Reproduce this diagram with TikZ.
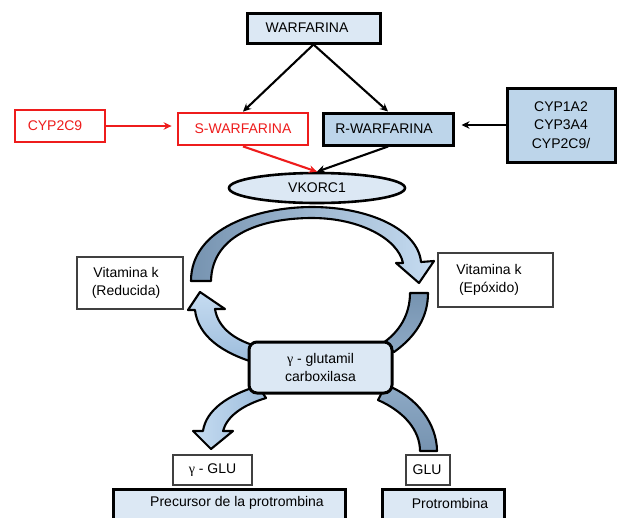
\documentclass[tikz,border=0pt]{standalone}
\usepackage{fontspec}
\setmainfont{Liberation Sans}
\newfontfamily\grk{Liberation Serif}
\usetikzlibrary{arrows.meta,shapes.geometric}
\definecolor{lightbox}{HTML}{DCE8F4}
\definecolor{midbox}{HTML}{BDD5EA}
\definecolor{darkarc}{HTML}{7693B0}
\definecolor{darkarc2}{HTML}{8EAAC6}
\definecolor{lightarc}{HTML}{C6DCF1}
\definecolor{lightarc2}{HTML}{9CBCDC}
\definecolor{redline}{HTML}{EE1C1C}
\tikzset{
  thickbox/.style={draw=black, line width=3pt, inner sep=0pt},
  redbox/.style={draw=redline, line width=2.8pt, fill=white, text=redline, inner sep=0pt},
  thinbox/.style={draw=black!75, line width=1.1pt, fill=white, inner sep=0pt, align=center},
  conn/.style={line width=2.1pt, -{Stealth[length=8pt,width=7.5pt]}},
  blockarc/.style={draw=black, line width=2.1pt, line join=round},
  plain/.style={inner sep=0pt, align=center}
}
\begin{document}
\begin{tikzpicture}[x=1pt,y=-1pt, font=\fontsize{14}{18.5}\selectfont]
\useasboundingbox (0,0) rectangle (617,517);
\clip (0,0) rectangle (617,517);

% ---- block arrows (cycle) ----
\draw[blockarc, left color=darkarc, right color=lightarc]
  (191,281) .. controls (191,228) and (258,207) .. (312,207)
  .. controls (370,207) and (418,230) .. (421,262)
  -- (434,261) -- (419,283) -- (396,263) -- (403,263)
  .. controls (398,239) and (360,218) .. (312,218)
  .. controls (265,218) and (212,233) .. (211,281) -- cycle;
\draw[blockarc, top color=darkarc, bottom color=darkarc2]
  (428,293) .. controls (428,318) and (415,337) .. (394,352)
  -- (383,343) .. controls (399,332) and (410,315) .. (410,293) -- cycle;
\draw[blockarc, top color=lightarc, bottom color=lightarc2]
  (225,309) -- (200,292) -- (188,310) -- (195,310)
  .. controls (198,336) and (222,353) .. (256,363)
  -- (256,346) .. controls (235,340) and (218,328) .. (215,309) -- cycle;
\draw[blockarc, left color=lightarc, right color=lightarc2]
  (203,431) .. controls (206,410) and (228,395) .. (258,386)
  -- (266,398) .. controls (243,405) and (227,416) .. (223,431)
  -- (233,431) -- (211,449) -- (193,431) -- cycle;
\draw[blockarc, top color=darkarc2, bottom color=darkarc]
  (386,385) .. controls (418,397) and (437,425) .. (437,451)
  -- (420,451) .. controls (420,431) and (405,412) .. (378,400) -- cycle;

% ---- nodes ----
\node[thickbox, fill=lightbox, minimum width=133, minimum height=30] (war) at (313.5,28) {};
\node[plain] (wart) at (307,28) {WARFARINA};
\node[redbox, minimum width=130, minimum height=32] (sw) at (243,129) {S-WARFARINA};
\node[thickbox, fill=midbox, minimum width=130, minimum height=32] (rw) at (388,129) {};
\node[plain] (rwt) at (384,129) {R-WARFARINA};
\node[redbox, minimum width=90, minimum height=32] (cyp2) at (60,126) {};
\node[plain, text=redline] (cyp2t) at (55,126) {CYP2C9};
\node[thickbox, fill=midbox, minimum width=108, minimum height=74, align=center] (cyp) at (561,125)
  {CYP1A2\\CYP3A4\\CYP2C9/};
\node[ellipse, draw=black, line width=2.6pt, fill=lightbox, minimum width=176, minimum height=30, inner sep=0pt] (vk) at (317,188) {VKORC1};

\node[thinbox, minimum width=106, minimum height=52] (vred) at (130,283) {};
\node[plain] (vredt) at (126,283) {Vitamina k\\(Reducida)};
\node[thinbox, minimum width=115, minimum height=54] (vepo) at (495.5,280) {};
\node[plain] (vepot) at (489,280) {Vitamina k\\(Epóxido)};

\node[thickbox, fill=lightbox, rounded corners=8pt, minimum width=143, minimum height=51, align=center,
  font=\fontsize{14}{18}\selectfont] (gc) at (320.5,367.5) {{\grk γ} - glutamil\\carboxilasa};

\node[thinbox, minimum width=79, minimum height=30] (gglu) at (212.5,470) {{\grk γ} - GLU};
\node[thinbox, minimum width=44, minimum height=30] (glu) at (428,470) {};
\node[plain] (glut) at (427,470) {GLU};

\node[thickbox, fill=lightbox, minimum width=232, minimum height=51] (prec) at (229,514.5) {};
\node[plain] (prect) at (237,503) {Precursor de la protrombina};
\node[thickbox, fill=lightbox, minimum width=122, minimum height=51] (prot) at (443,514.5) {};
\node[plain] (prott) at (450,503) {Protrombina};

% ---- connectors ----
\draw[conn] (war.south) -- (sw.north);
\draw[conn] (war.south) -- (rw.north);
\draw[conn, redline] (cyp2.east) -- ([xshift=-5pt]sw.west |- cyp2.east);
\draw[conn] (cyp.west) -- ([xshift=7pt]rw.east |- cyp.west);
\draw[conn, redline] (sw.south) -- (vk.north);
\draw[conn] (rw.south) -- (vk.north);
\end{tikzpicture}
\end{document}
